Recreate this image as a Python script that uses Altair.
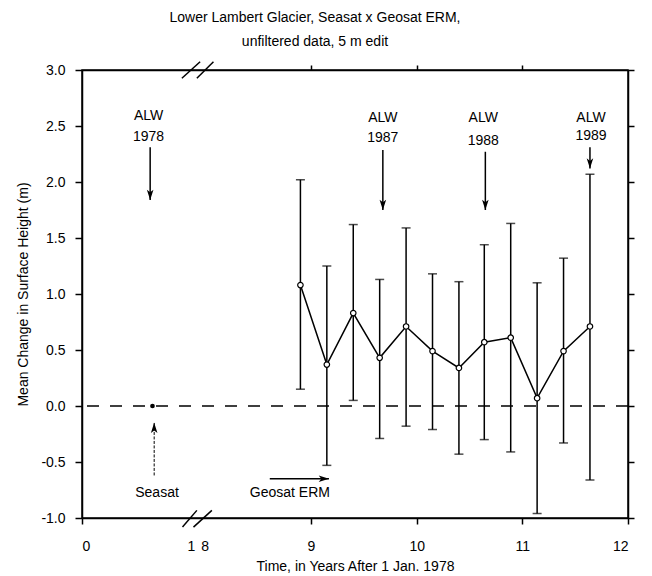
import altair as alt
import pandas as pd

FONT = "Liberation Sans"

# ---- data (time in years after 1 Jan 1978) ----
t_geo = [8.90, 9.15, 9.40, 9.65, 9.90, 10.15, 10.40, 10.64, 10.89, 11.14, 11.39, 11.64]
mean_geo = [1.08, 0.37, 0.83, 0.43, 0.71, 0.49, 0.34, 0.57, 0.61, 0.07, 0.49, 0.71]
upper_geo = [2.02, 1.25, 1.62, 1.13, 1.59, 1.18, 1.11, 1.44, 1.63, 1.10, 1.32, 2.07]
lower_geo = [0.15, -0.53, 0.05, -0.29, -0.18, -0.21, -0.43, -0.30, -0.41, -0.96, -0.33, -0.66]

t_seasat = [0.667]
mean_seasat = [0.0]

# ALW annotations
alw_year = ["1978", "1987", "1988", "1989"]
alw_text_t = [0.63, 9.68, 10.63, 11.65]
alw_line1_y = [2.59, 2.57, 2.57, 2.57]
alw_line2_y = [2.40, 2.39, 2.37, 2.41]
alw_arrow_t = [0.645, 9.68, 10.65, 11.64]
alw_arrow_top = [2.31, 2.285, 2.27, 2.31]
alw_arrow_tip = [1.84, 1.75, 1.75, 2.12]

# Mission labels
mission_text = ["Seasat", "Geosat ERM"]
mission_text_t = [0.71, 8.80]
mission_text_y = [-0.78, -0.78]

# Seasat (vertical, upward) arrow
seasat_arrow_t = [0.683]
seasat_arrow_from = [-0.62]
seasat_arrow_tip = [-0.15]

# Geosat ERM (horizontal, rightward) arrow
geo_arrow_from_t = [8.61]
geo_arrow_tip_t = [9.17]
geo_arrow_y = [-0.65]

# axis break: years removed between 1 and 8
BREAK_SHIFT = 6.833
X_MAX = 12 - BREAK_SHIFT

# break marks "//" in display units
brk_x1 = [0.951, 1.055, 0.945, 1.087]
brk_x2 = [1.087, 1.229, 1.118, 1.244]
brk_y1 = [-1.081, -1.081, 2.926, 2.926]
brk_y2 = [-0.932, -0.932, 3.074, 3.074]

x_tick_years = [0, 1, 8, 9, 10, 11, 12]
x_tick_pos = [0, 1.03, 1.16, 9 - BREAK_SHIFT, 10 - BREAK_SHIFT, 11 - BREAK_SHIFT, 12 - BREAK_SHIFT]
y_ticks = [-1.0, -0.5, 0.0, 0.5, 1.0, 1.5, 2.0, 2.5, 3.0]


def disp(t):
    return t if t < 4 else t - BREAK_SHIFT


geo = pd.DataFrame({
    "d": [disp(t) for t in t_geo],
    "mean": mean_geo, "upper": upper_geo, "lower": lower_geo,
})
seasat = pd.DataFrame({"d": [disp(t) for t in t_seasat], "mean": mean_seasat})
alw = pd.DataFrame({
    "d": [disp(t) for t in alw_text_t],
    "y1": alw_line1_y, "y2": alw_line2_y, "year": alw_year,
    "ad": [disp(t) for t in alw_arrow_t],
    "top": alw_arrow_top, "tip": alw_arrow_tip,
})
missions = pd.DataFrame({
    "d": [disp(t) for t in mission_text_t], "y": mission_text_y, "label": mission_text,
})
s_arrow = pd.DataFrame({
    "d": [disp(t) for t in seasat_arrow_t], "y1": seasat_arrow_from, "y2": seasat_arrow_tip,
})
g_arrow = pd.DataFrame({
    "d1": [disp(t) for t in geo_arrow_from_t], "d2": [disp(t) for t in geo_arrow_tip_t],
    "y": geo_arrow_y,
})
breaks = pd.DataFrame({"x1": brk_x1, "x2": brk_x2, "y1": brk_y1, "y2": brk_y2})
zero = pd.DataFrame({"y": [0.0]})

xscale = alt.Scale(domain=[0, X_MAX], nice=False, zero=False)
yscale = alt.Scale(domain=[-1, 3], nice=False)

label_map = " : ".join(
    [f"abs(datum.value - {p}) < 0.02 ? '{y}'" for p, y in zip(x_tick_pos, x_tick_years)]
) + " : ''"

ax_style = dict(
    labelFont=FONT, titleFont=FONT, labelFontSize=14, titleFontSize=14,
    titleFontWeight="normal", labelColor="black", titleColor="black",
    domainColor="black", domainWidth=1.5, tickWidth=1.5, grid=False,
)

x_axis_bottom = alt.Axis(
    values=x_tick_pos, labelExpr=label_map, title="Time, in Years After 1 Jan. 1978",
    tickSize=6, labelPadding=15, titlePadding=6,
    tickColor={"condition": {"test": "datum.value > 1.5 || datum.value < 0.5", "value": "black"},
               "value": "transparent"},
    **ax_style,
)
y_axis_left = alt.Axis(
    values=y_ticks, labelExpr="replace(format(datum.value, '.1f'), '\u2212', '-')",
    title="Mean Change in Surface Height (m)", tickSize=7, tickColor="black",
    labelPadding=10, titlePadding=10, **ax_style,
)
x_axis_top = alt.Axis(
    orient="top", values=x_tick_pos[3:6], labels=False, title=None, tickSize=5,
    tickColor="black", **ax_style,
)
y_axis_right = alt.Axis(
    orient="right", values=y_ticks, labels=False, title=None, tickSize=6,
    tickColor="black", **ax_style,
)

# error bars (hosts bottom/left axes)
bars = alt.Chart(geo).mark_rule(color="black", strokeWidth=1.5).encode(
    x=alt.X("d:Q", scale=xscale, axis=x_axis_bottom),
    y=alt.Y("lower:Q", scale=yscale, axis=y_axis_left),
    y2="upper:Q",
)
caps_up = alt.Chart(geo).mark_tick(color="black", orient="horizontal", size=9, thickness=1.5).encode(
    x=alt.X("d:Q", scale=xscale, axis=None), y=alt.Y("upper:Q", scale=yscale, axis=None))
caps_lo = alt.Chart(geo).mark_tick(color="black", orient="horizontal", size=9, thickness=1.5).encode(
    x=alt.X("d:Q", scale=xscale, axis=None), y=alt.Y("lower:Q", scale=yscale, axis=None))

zero_line = alt.Chart(zero).mark_rule(color="black", strokeWidth=1.3, strokeDash=[12, 11]).encode(
    y=alt.Y("y:Q", scale=yscale, axis=None))

line = alt.Chart(geo).mark_line(color="black", strokeWidth=1.5).encode(
    x=alt.X("d:Q", scale=xscale, axis=None), y=alt.Y("mean:Q", scale=yscale, axis=None))

# open circles (hosts top/right axes)
pts = alt.Chart(geo).mark_point(shape="circle", size=30, filled=True, fill="white",
                                stroke="black", strokeWidth=1.2, opacity=1).encode(
    x=alt.X("d:Q", scale=xscale, axis=x_axis_top),
    y=alt.Y("mean:Q", scale=yscale, axis=y_axis_right),
)

seasat_pt = alt.Chart(seasat).mark_point(shape="circle", size=22, filled=True, color="black",
                                         opacity=1).encode(
    x=alt.X("d:Q", scale=xscale, axis=None), y=alt.Y("mean:Q", scale=yscale, axis=None))

txt = dict(font=FONT, fontSize=14, color="black", baseline="middle", align="center")
alw_t1 = alt.Chart(alw).mark_text(**txt).encode(
    x=alt.X("d:Q", scale=xscale, axis=None), y=alt.Y("y1:Q", scale=yscale, axis=None),
    text=alt.value("ALW"))
alw_t2 = alt.Chart(alw).mark_text(**txt).encode(
    x=alt.X("d:Q", scale=xscale, axis=None), y=alt.Y("y2:Q", scale=yscale, axis=None),
    text="year:N")
alw_shaft = alt.Chart(alw).mark_rule(color="black", strokeWidth=1.5).encode(
    x=alt.X("ad:Q", scale=xscale, axis=None), y=alt.Y("top:Q", scale=yscale, axis=None), y2="tip:Q")
DOWN = "M-0.32,-1L0,0L0.32,-1L0,-0.75Z"
UP = "M-0.32,1L0,0L0.32,1L0,0.75Z"
RIGHT = "M-1,-0.32L0,0L-1,0.32L-0.75,0Z"
alw_head = alt.Chart(alw).mark_point(shape=DOWN, size=420, filled=True, color="black", opacity=1).encode(
    x=alt.X("ad:Q", scale=xscale, axis=None), y=alt.Y("tip:Q", scale=yscale, axis=None))

mission_lbl = alt.Chart(missions).mark_text(**txt).encode(
    x=alt.X("d:Q", scale=xscale, axis=None), y=alt.Y("y:Q", scale=yscale, axis=None), text="label:N")

s_shaft = alt.Chart(s_arrow).mark_rule(color="black", strokeWidth=1, strokeDash=[3, 1.5]).encode(
    x=alt.X("d:Q", scale=xscale, axis=None), y=alt.Y("y1:Q", scale=yscale, axis=None), y2="y2:Q")
s_head = alt.Chart(s_arrow).mark_point(shape=UP, size=420, filled=True, color="black", opacity=1).encode(
    x=alt.X("d:Q", scale=xscale, axis=None), y=alt.Y("y2:Q", scale=yscale, axis=None))

g_shaft = alt.Chart(g_arrow).mark_rule(color="black", strokeWidth=1.5).encode(
    x=alt.X("d1:Q", scale=xscale, axis=None), x2="d2:Q", y=alt.Y("y:Q", scale=yscale, axis=None))
g_head = alt.Chart(g_arrow).mark_point(shape=RIGHT, size=420, filled=True, color="black", opacity=1).encode(
    x=alt.X("d2:Q", scale=xscale, axis=None), y=alt.Y("y:Q", scale=yscale, axis=None))

brk = alt.Chart(breaks).mark_rule(color="black", strokeWidth=1.5).encode(
    x=alt.X("x1:Q", scale=xscale, axis=None), x2="x2:Q",
    y=alt.Y("y1:Q", scale=yscale, axis=None), y2="y2:Q")

chart = alt.layer(
    zero_line, bars, caps_up, caps_lo, line, pts, seasat_pt,
    alw_t1, alw_t2, alw_shaft, alw_head, mission_lbl, s_shaft, s_head, g_shaft, g_head, brk,
).resolve_axis(x="independent", y="independent").properties(
    width=546, height=448,
    background="white",
    title=alt.TitleParams(
        text=["Lower Lambert Glacier,  Seasat x Geosat ERM,", "unfiltered data, 5 m edit"],
        font=FONT, fontSize=14, fontWeight="normal", lineHeight=24, anchor="middle",
        dx=-40, offset=12, color="black",
    ),
    padding={"left": 8, "top": 2, "right": 5, "bottom": 0},
).configure_view(stroke="black", strokeWidth=1.5)

chart.save("out.html", embed_options={"renderer": "svg", "actions": False})
